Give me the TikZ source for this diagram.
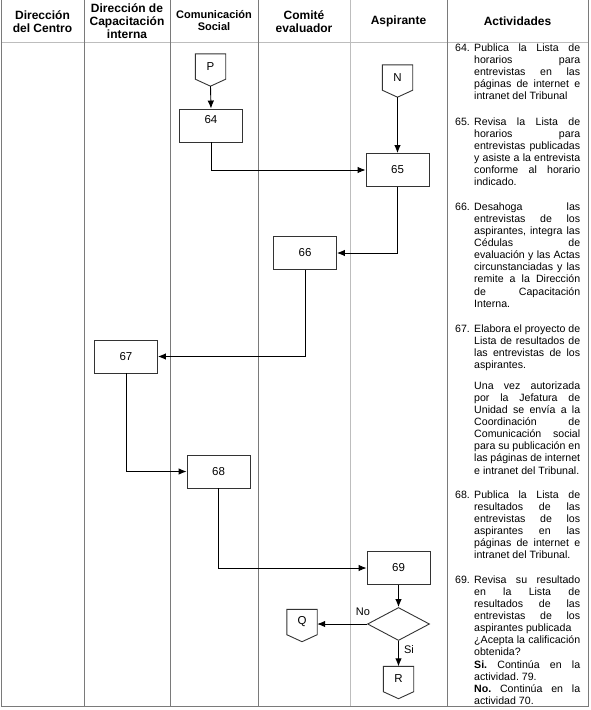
\documentclass[tikz,border=0pt]{standalone}
\usepackage{fontspec}
\setmainfont{Liberation Sans}
\usetikzlibrary{arrows.meta,shapes.geometric,calc}
\definecolor{gridd}{HTML}{7A7A7A}
\definecolor{gridl}{HTML}{BDBDBD}
\definecolor{boxc}{HTML}{333333}
\newlength\actw \setlength\actw{106pt}
\newcommand\jline[1]{\hbox to \actw{\frenchspacing\spaceskip=0.278em plus 1fil minus 0.05em\relax #1}}
\newcommand\lline[1]{\hbox to \actw{\frenchspacing #1\hfil}}
\newcommand\actpar[1]{\parbox[t]{\actw}{\fontsize{10.6}{12.15}\selectfont #1}}
\tikzset{
  x=1pt, y=-1pt,
  gridline/.style={line width=1pt},
  stepbox/.style={draw=boxc, line width=0.9pt, minimum width=63pt, minimum height=33pt, inner sep=0pt, font=\fontsize{11.5}{13}\selectfont},
  offp/.style={minimum width=30pt, minimum height=25pt, inner sep=0pt, font=\fontsize{11.5}{13}\selectfont},
  offline/.style={draw=boxc, line width=0.9pt},
  arr/.style={draw=black, line width=0.9pt, -{Latex[length=8pt,width=6.5pt]}},
  head/.style={align=center, font=\fontsize{12}{13}\selectfont\bfseries},
  actnum/.style={anchor=base west, inner sep=0pt, font=\fontsize{10.6}{12.15}\selectfont},
  acttext/.style={anchor=base west, inner sep=0pt},
  lbl/.style={inner sep=0pt, font=\fontsize{11}{12}\selectfont}
}
\newcommand\offshape[1]{\draw[offline] (#1.north west) -- (#1.north east) -- (#1.south east) -- ($(#1.south)+(0,7)$) -- (#1.south west) -- cycle;}
\begin{document}
\begin{tikzpicture}
\useasboundingbox (0,0) rectangle (590,710);
% table
\draw[gridline, gridl] (1,42.5) -- (588,42.5);
\draw[gridline, gridd] (84,0) -- (84,706);
\draw[gridline, gridd] (170,0) -- (170,706);
\draw[gridline, gridd] (258,0) -- (258,706);
\draw[gridline, gridl] (350,0) -- (350,706);
\draw[gridline, gridd] (447,0) -- (447,706);
\draw[gridline, gridd] (1,0) -- (1,706) -- (588,706) -- (588,0);
% headers
\node[head] (h1) at (42.5,22) {Dirección\\del Centro};
\node[head] (h2) at (127,21) {Dirección de\\Capacitación\\interna};
\node[head, font=\fontsize{11}{12}\selectfont\bfseries] (h3) at (214,21) {Comunicación\\Social};
\node[head] (h4) at (304,22) {Comité\\evaluador};
\node[head] (h5) at (398.5,21.5) {Aspirante};
\node[head] (h6) at (517.5,21.5) {Actividades};
% flow nodes
\node[offp] (P) at (210.5,66.5) {P};
\offshape{P}
\coordinate (Ptip) at ($(P.south)+(0,7)$);
\node[offp] (N) at (397.5,77.5) {N};
\offshape{N}
\coordinate (Ntip) at ($(N.south)+(0,7)$);
\node[stepbox] (b64) at (211,125.5) {};
\node[lbl, font=\fontsize{11.5}{13}\selectfont] (t64) at (211,119.5) {64};
\node[stepbox] (b65) at (397.5,170) {65};
\node[stepbox] (b66) at (305,253) {66};
\node[stepbox] (b67) at (126,356.5) {67};
\node[stepbox] (b68) at (218.5,471.5) {68};
\node[stepbox] (b69) at (398.5,568) {69};
\node[diamond, draw=boxc, line width=0.9pt, minimum width=62pt, minimum height=33pt, inner sep=0pt] (d69) at (398.5,624) {};
\node[offp] (Q) at (302,622) {Q};
\offshape{Q}
\node[offp] (R) at (398.5,679) {R};
\offshape{R}
\node[lbl] (lno) at (363,612) {No};
\node[lbl] (lsi) at (409,650) {Si};
% connectors
\draw[arr] (Ptip) -- (b64.north);
\draw[arr] (Ntip) -- (b65.north);
\draw[arr] (b64.south) |- (b65.west);
\draw[arr] (b65.south) |- (b66.east);
\draw[arr] (b66.south) |- (b67.east);
\draw[arr] (b67.south) |- (b68.west);
\draw[arr] (b68.south) |- (b69.west);
\draw[arr] (b69.south) -- (d69.north);
\draw[arr] (d69.west) -- (d69.west -| Q.east);
\draw[arr] (d69.south) -- (R.north);
% activities
\node[actnum] (n64) at (455,51) {64.};
\node[acttext] (a64) at (474,51) {\actpar{%
\jline{Publica la Lista de}
\jline{horarios para}
\jline{entrevistas en las}
\jline{páginas de internet e}
\lline{intranet del Tribunal}}};
\node[actnum] (n65) at (455,125) {65.};
\node[acttext] (a65) at (474,125) {\actpar{%
\jline{Revisa la Lista de}
\jline{horarios para}
\jline{entrevistas publicadas}
\jline{y asiste a la entrevista}
\jline{conforme al horario}
\lline{indicado.}}};
\node[actnum] (n66) at (455,210) {66.};
\node[acttext] (a66) at (474,210) {\actpar{%
\jline{Desahoga las}
\jline{entrevistas de los}
\jline{aspirantes, integra las}
\jline{Cédulas de}
\jline{evaluación y las Actas}
\jline{circunstanciadas y las}
\jline{remite a la Dirección}
\jline{de Capacitación}
\lline{Interna.}}};
\node[actnum] (n67) at (455,332) {67.};
\node[acttext] (a67) at (474,332) {\actpar{%
\jline{Elabora el proyecto de}
\jline{Lista de resultados de}
\jline{las entrevistas de los}
\lline{aspirantes.}}};
\node[acttext] (a67b) at (474,389) {\actpar{%
\jline{Una vez autorizada}
\jline{por la Jefatura de}
\jline{Unidad se envía a la}
\jline{Coordinación de}
\jline{Comunicación social}
\jline{para su publicación en}
\jline{las páginas de internet}
\lline{e intranet del Tribunal.}}};
\node[actnum] (n68) at (455,498) {68.};
\node[acttext] (a68) at (474,498) {\actpar{%
\jline{Publica la Lista de}
\jline{resultados de las}
\jline{entrevistas de los}
\jline{aspirantes en las}
\jline{páginas de internet e}
\lline{intranet del Tribunal.}}};
\node[actnum] (n69) at (455,583) {69.};
\node[acttext] (a69) at (474,583) {\actpar{%
\jline{Revisa su resultado}
\jline{en la Lista de}
\jline{resultados de las}
\jline{entrevistas de los}
\lline{aspirantes publicada}
\jline{¿Acepta la calificación}
\lline{obtenida?}
\jline{\textbf{Si.} Continúa en la}
\lline{actividad. 79.}
\jline{\textbf{No.} Continúa en la}
\lline{actividad 70.}}};
\end{tikzpicture}
\end{document}
